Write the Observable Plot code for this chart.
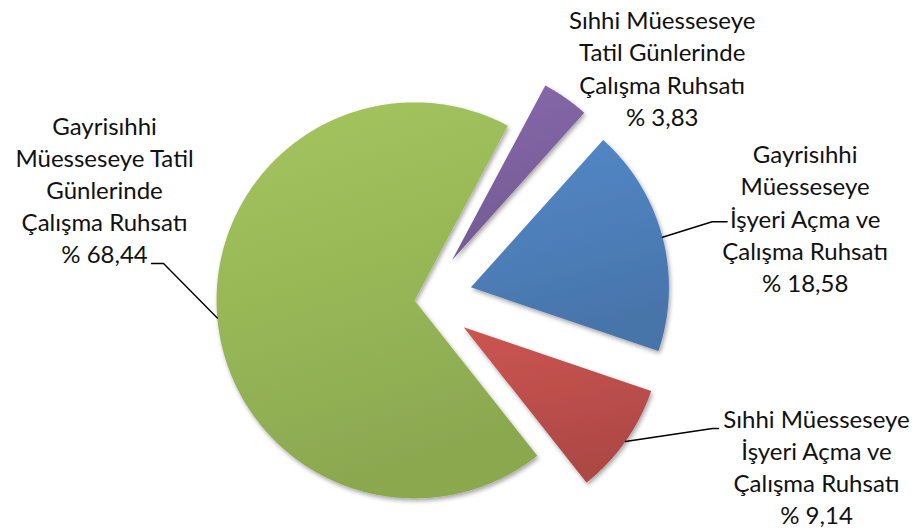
<!DOCTYPE html>
<html>
<head>
<meta charset="utf-8">
<script src="https://cdn.jsdelivr.net/npm/d3@7"></script>
<script src="https://cdn.jsdelivr.net/npm/@observablehq/plot@0.6"></script>
<style>
  html, body { margin: 0; padding: 0; background: #ffffff; }
  #chart { width: 917px; height: 531px; }
</style>
</head>
<body>
<div id="chart"></div>
<script>
// ---- data ----
const categories = [
  "Sıhhi Müesseseye Tatil Günlerinde Çalışma Ruhsatı",
  "Gayrisıhhi Müesseseye İşyeri Açma ve Çalışma Ruhsatı",
  "Sıhhi Müesseseye İşyeri Açma ve Çalışma Ruhsatı",
  "Gayrisıhhi Müesseseye Tatil Günlerinde Çalışma Ruhsatı"
];
const labelLines = [
  ["Sıhhi Müesseseye", "Tatil Günlerinde", "Çalışma Ruhsatı"],
  ["Gayrisıhhi", "Müesseseye", "İşyeri Açma ve", "Çalışma Ruhsatı"],
  ["Sıhhi Müesseseye", "İşyeri Açma ve", "Çalışma Ruhsatı"],
  ["Gayrisıhhi", "Müesseseye Tatil", "Günlerinde", "Çalışma Ruhsatı"]
];
const values = [3.83, 18.58, 9.14, 68.44];

// ---- styles / layout (not data) ----
const colors = ["#8064A2", "#4F81BD", "#C0504D", "#9BBB59"];
const startAngle = 28.1;          // degrees clockwise from 12 o'clock
const radius = 198;
const explode = [48, 48, 48, 10];
const labelAngle = [45.9, 78.1, 113.2, 288.8];
const labelRadius = [331, 389, 426.5, 338];
// leader line elbow / end relative to label centre (null = no leader)
const leaderElbow = [null, [-93, 2.5], [-104, -39], [59, 73]];
const leaderEnd = [null, [-78, 2.5], [-98, -39], [47, 73]];

const W = 917, H = 531, CX = 424, CY = 299;
const rad = (a) => a * Math.PI / 180;

const total = d3.sum(values);
const slicePts = [];
const leaderPts = [];
const labels = [];
let acc = startAngle;
values.forEach((v, i) => {
  const a0 = acc, a1 = acc + v / total * 360;
  acc = a1;
  const bis = (a0 + a1) / 2;
  const ox = explode[i] * Math.sin(rad(bis));
  const oy = -explode[i] * Math.cos(rad(bis));
  const name = categories[i];
  slicePts.push({name, x: ox, y: oy});
  const n = Math.max(2, Math.ceil((a1 - a0) * 2));
  for (let k = 0; k <= n; k++) {
    const t = a0 + (a1 - a0) * k / n;
    slicePts.push({name, x: ox + radius * Math.sin(rad(t)), y: oy - radius * Math.cos(rad(t))});
  }
  slicePts.push({name, x: ox, y: oy});
  const lx = labelRadius[i] * Math.sin(rad(labelAngle[i]));
  const ly = -labelRadius[i] * Math.cos(rad(labelAngle[i]));
  const text = labelLines[i].join("\n") + "\n% " + v.toFixed(2).replace(".", ",");
  labels.push({name, x: lx, y: ly, text});
  if (leaderElbow[i]) {
    leaderPts.push({name, x: ox + radius * Math.sin(rad(bis)), y: oy - radius * Math.cos(rad(bis))});
    leaderPts.push({name, x: lx + leaderElbow[i][0], y: ly + leaderElbow[i][1]});
    leaderPts.push({name, x: lx + leaderEnd[i][0], y: ly + leaderEnd[i][1]});
  }
});

const plot = Plot.plot({
  width: W,
  height: H,
  margin: 0,
  style: {background: "#ffffff", overflow: "visible"},
  x: {domain: [-CX, W - CX], range: [0, W], axis: null},
  y: {domain: [-CY, H - CY], range: [0, H], axis: null},
  color: {type: "ordinal", domain: categories, range: categories.map((_, i) => `url(#grad${i})`)},
  marks: [
    Plot.line(slicePts, {x: "x", y: "y", z: "name", fill: "name", stroke: "none", curve: "linear"}),
    Plot.line(leaderPts, {x: "x", y: "y", z: "name", stroke: "#000000", strokeWidth: 1.4, curve: "linear"}),
    Plot.text(labels, {
      x: "x", y: "y", text: "text", dy: -2,
      fontFamily: "Lato", fontSize: 24, lineHeight: 1.34,
      textAnchor: "middle", lineAnchor: "middle", fill: "#111111"
    })
  ]
});

// gradient + shadow definitions
const svgNS = "http://www.w3.org/2000/svg";
const defs = document.createElementNS(svgNS, "defs");
colors.forEach((c, i) => {
  const g = document.createElementNS(svgNS, "linearGradient");
  g.setAttribute("id", `grad${i}`);
  g.setAttribute("x1", "0"); g.setAttribute("y1", "0");
  g.setAttribute("x2", "0.25"); g.setAttribute("y2", "1");
  [[0, d3.color(c).brighter(0.15)], [0.5, d3.color(c).darker(0.05)], [1, d3.color(c).darker(0.3)]].forEach(([o, col]) => {
    const s = document.createElementNS(svgNS, "stop");
    s.setAttribute("offset", o);
    s.setAttribute("stop-color", col.formatHex());
    g.appendChild(s);
  });
  defs.appendChild(g);
});
const f = document.createElementNS(svgNS, "filter");
f.setAttribute("id", "shadow");
f.setAttribute("x", "-20%"); f.setAttribute("y", "-20%");
f.setAttribute("width", "140%"); f.setAttribute("height", "140%");
const ds = document.createElementNS(svgNS, "feDropShadow");
ds.setAttribute("dx", "1.5"); ds.setAttribute("dy", "2.5");
ds.setAttribute("stdDeviation", "2");
ds.setAttribute("flood-color", "#000000");
ds.setAttribute("flood-opacity", "0.35");
f.appendChild(ds);
defs.appendChild(f);
plot.insertBefore(defs, plot.firstChild);
plot.querySelectorAll("g[aria-label='line']")[0].querySelectorAll("path").forEach(p => p.setAttribute("filter", "url(#shadow)"));

document.getElementById("chart").appendChild(plot);
</script>
</body>
</html>
